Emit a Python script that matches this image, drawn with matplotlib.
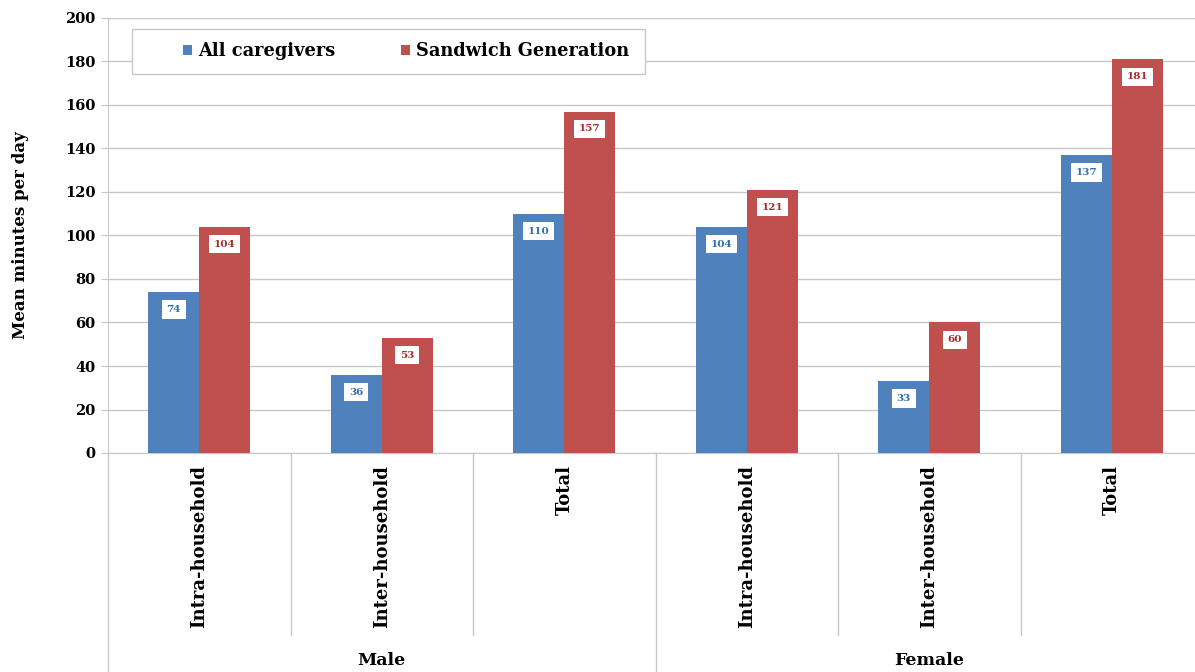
import numpy as np
import matplotlib.pyplot as plt
import matplotlib.transforms as mtransforms
from matplotlib.patches import Rectangle

categories = ["Intra-household", "Inter-household", "Total",
              "Intra-household", "Inter-household", "Total"]
groups = ["Male", "Female"]
all_caregivers = [74, 36, 110, 104, 33, 137]
sandwich_gen = [104, 53, 157, 121, 60, 181]

blue = '#4F81BD'
red = '#C0504D'
grid_gray = '#C8C8C8'
serif = ['DejaVu Serif']

fig = plt.figure(figsize=(11.95, 6.72), dpi=100)
ax = fig.add_axes([108 / 1195, 219 / 672, 1095 / 1195, 435 / 672])

x = np.arange(len(categories))
w = 0.28
b1 = ax.bar(x - w / 2, all_caregivers, w, color=blue, label='All caregivers', zorder=3)
b2 = ax.bar(x + w / 2, sandwich_gen, w, color=red, label='Sandwich Generation', zorder=3)

# value boxes sitting just inside the top of each bar
for bars, vals, tc in [(b1, all_caregivers, '#2E6DB0'), (b2, sandwich_gen, '#A52A2A')]:
    for r, v in zip(bars, vals):
        ax.text(r.get_x() + r.get_width() / 2, v - 8, str(v), ha='center', va='center',
                fontsize=7.5, fontweight='bold', color=tc, family=serif, zorder=4,
                bbox=dict(boxstyle='square,pad=0.45', fc='white', ec='none'))

ax.set_xlim(-0.5, len(categories) - 0.5)
ax.set_ylim(0, 200)
ax.set_yticks(np.arange(0, 201, 20))
ax.yaxis.grid(True, color=grid_gray, lw=1, zorder=0)
ax.set_xticks([])
for s in ['top', 'right']:
    ax.spines[s].set_visible(False)
ax.spines['left'].set_color(grid_gray)
ax.spines['bottom'].set_color(grid_gray)
ax.tick_params(axis='y', length=5, color=grid_gray, labelsize=10.5, pad=4)
for t in ax.get_yticklabels():
    t.set_fontweight('bold')
    t.set_family(serif)
ax.set_ylabel('Mean minutes per day', fontsize=12, fontweight='bold', family=serif, labelpad=26)

# category and group labels below the axis
trans = mtransforms.blended_transform_factory(ax.transData, ax.transAxes)
for i, c in enumerate(categories):
    ax.text(i, -0.028, c, transform=trans, rotation=90, ha='center', va='top',
            fontsize=13, fontweight='bold', family=serif, clip_on=False)
for i in range(len(categories) + 1):
    xi = i - 0.5
    low = -0.52 if i % 3 == 0 else -0.418
    ax.plot([xi, xi], [0, low], transform=trans, color=grid_gray, lw=1, clip_on=False)
for j, g in enumerate(groups):
    ax.text(3 * j + 1, -0.476, g, transform=trans, ha='center', va='center',
            fontsize=12.5, fontweight='bold', family=serif, clip_on=False)

# legend box drawn separately so the entries sit centred inside it
ax.add_patch(Rectangle((0.022, 0.871), 0.468, 0.104, transform=ax.transAxes,
                       fc='white', ec=grid_gray, lw=1, zorder=5))
leg = ax.legend(loc='center', bbox_to_anchor=(0.272, 0.923), ncol=2, frameon=False,
                handlelength=0.5, handleheight=0.5, handletextpad=0.35, columnspacing=3.7,
                prop={'family': serif, 'weight': 'bold', 'size': 12.8})
leg.set_zorder(6)

fig.savefig('out.png', dpi=100)
